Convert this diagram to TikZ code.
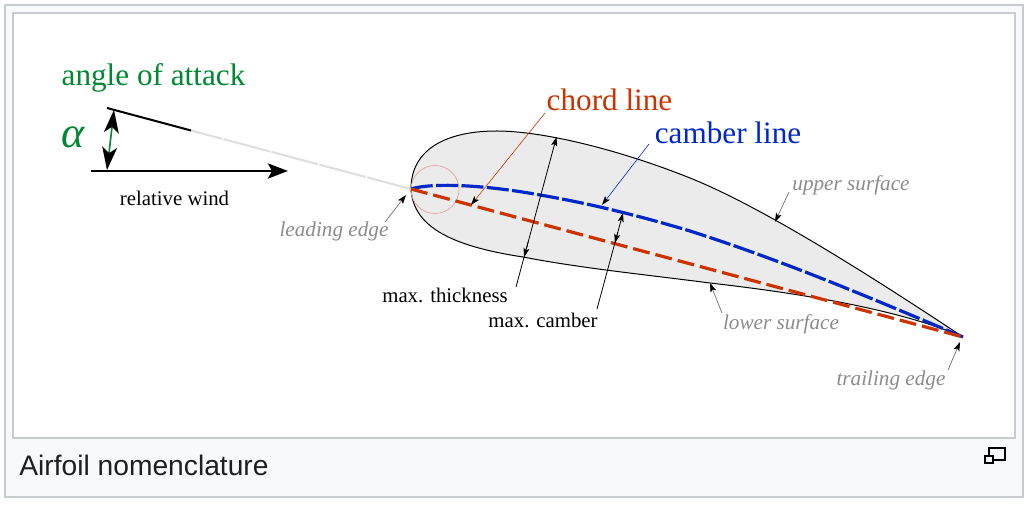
\documentclass[tikz,border=0pt]{standalone}
\usepackage{fontspec}
\setmainfont{Liberation Serif}
\newfontfamily\captionfont{Liberation Sans}
\usetikzlibrary{arrows.meta,calc}
\definecolor{chordred}{RGB}{204,51,0}
\definecolor{camberblue}{RGB}{0,40,200}
\definecolor{alphagreen}{RGB}{0,136,51}
\definecolor{framegray}{RGB}{200,204,209}
\definecolor{capbg}{RGB}{248,249,250}
\definecolor{nosepink}{RGB}{225,170,170}
\tikzstyle{skin}=[draw=black,line width=0.5pt,fill=black!8]
\tikzstyle{callout}=[line width=0.4pt,-{Stealth[length=4.5pt,width=3pt,inset=1pt,black]}]
\tikzstyle{greycallout}=[line width=0.35pt,draw=black!55,-{Stealth[length=4.5pt,width=3pt,inset=1pt,black]}]
\tikzstyle{heavy}=[line width=1.6pt]
\tikzstyle{surfacelabel}=[font=\fontsize{10.6}{12}\selectfont\itshape,text=black!45,inner sep=0pt]
\tikzstyle{blacklabel}=[font=\fontsize{10.4}{12}\selectfont,inner sep=0pt]
\tikzstyle{biglabel}=[font=\fontsize{15.6}{18}\selectfont,inner sep=0pt]
\begin{document}
\begin{tikzpicture}[x=0.5pt,y=-0.5pt]
\useasboundingbox (0,0) rectangle (1036,506);

   % frame and caption
   \draw[framegray,fill=capbg,line width=1pt] (5,5) rectangle (1023,497);
   \draw[framegray,fill=white,line width=1pt] (13,13) rectangle (1015,438);
   \node[anchor=west,inner sep=0pt,font=\captionfont\fontsize{14.1}{16}\selectfont,text=black!88] (caption) at (19,465) {Airfoil nomenclature};
   \draw[black,line width=0.6pt] (989,448) rectangle (1005,460);
   \draw[black,line width=0.6pt,fill=capbg] (985,456) rectangle (993,463);

   % fixed points
   \coordinate (lead) at (411,189);
   \coordinate (trail) at (963,337);
   \coordinate (tail) at (107,108);
   \coordinate (fade) at (191,130.5);
   \coordinate (windstart) at (91,171);
   \coordinate (windend) at (288,171);

   % airfoil
   \draw[skin] (lead) .. controls (411,150) and (445,131) .. (497,131)
      .. controls (540,131) and (615,148) .. (690,178)
      .. controls (765,208) and (880,282) .. (trail)
      .. controls (890,305) and (770,290) .. (710,283)
      .. controls (640,274) and (580,268) .. (523,257)
      .. controls (450,246) and (413,226) .. (lead) -- cycle;

   % leading edge circle
   \node[circle,draw=nosepink,line width=0.4pt,minimum size=24pt,inner sep=0pt] (nosecircle) at (435,189.5) {};

   % relative wind and angle of attack
   \draw[black!13,line width=1pt,dash pattern=on 24pt off 0.8pt,dash phase=8pt] (fade) -- (lead);
   \draw[line width=1pt] (tail) -- (fade);
   \draw[line width=1.4pt,-{Stealth[length=10pt,width=7.5pt,inset=2pt]}] (windstart) -- (windend);
   \coordinate (aoatop) at (114,110);
   \coordinate (aoabot) at (107,170);
   \draw[line width=0.8pt,alphagreen,{Stealth[length=11.5pt,width=7.5pt,inset=3pt,black]}-{Stealth[length=11.5pt,width=7.5pt,inset=3pt,black]}] (aoabot) -- (aoatop);

   % camber and chord
   \draw[camberblue,heavy,dash pattern=on 11pt off 1.7pt] (lead) .. controls (430,183) and (480,184) .. (540,195)
      .. controls (590,203.5) and (640,216) .. (690,231)
      .. controls (790,263) and (880,302) .. (trail);
   \draw[chordred,heavy,dash pattern=on 8.5pt off 3pt] (lead) -- (trail);

   % labels
   \node[biglabel,text=alphagreen] (aoalabel) at (153.5,78) {angle of attack};
   \node[text=alphagreen,inner sep=0pt,font=\fontsize{22}{24}\selectfont\itshape] (alphalabel) at (73,137) {α};
   \node[blacklabel] (windlabel) at (174.5,198) {relative wind};
   \node[biglabel,text=chordred] (chordlabel) at (609.5,100) {chord line};
   \node[biglabel,text=camberblue] (camberlabel) at (728,133) {camber line};
   \node[surfacelabel] (leadlabel) at (334,231) {leading edge};
   \node[surfacelabel] (upperlabel) at (851,185) {upper surface};
   \node[surfacelabel] (lowerlabel) at (781,324) {lower surface};
   \node[surfacelabel] (traillabel) at (891,380) {trailing edge};
   \node[blacklabel] (thicklabel) at (445,295) {max. thickness};
   \node[blacklabel] (camblabel) at (543,320) {max. camber};

   % callouts
   \coordinate (chordfrom) at (545,113);
   \coordinate (chordto) at (471,205);
   \coordinate (camberfrom) at (649,144);
   \coordinate (camberto) at (602,205);
   \draw[callout,chordred,line width=0.3pt] (chordfrom) -- (chordto);
   \draw[callout,camberblue,line width=0.3pt] (camberfrom) -- (camberto);
   \coordinate (thickfrom) at (516,287);
   \coordinate (thicktop) at (556.5,137);
   \coordinate (thickbot) at ($(thickfrom)!0.2!(thicktop)$);
   \draw[callout] (thickfrom) -- (thicktop);
   \draw[callout] ($(thickfrom)!0.3!(thicktop)$) -- (thickbot);
   \coordinate (cambfrom) at (597,309);
   \coordinate (cambtop) at (623,213);
   \coordinate (cambbot) at ($(cambfrom)!0.6875!(cambtop)$);
   \draw[callout] (cambfrom) -- (cambtop);
   \draw[callout] ($(cambfrom)!0.8!(cambtop)$) -- (cambbot);
   \coordinate (leadfrom) at (385,222);
   \coordinate (leadto) at (406,195);
   \draw[greycallout] (leadfrom) -- (leadto);
   \coordinate (upperfrom) at (789,192);
   \coordinate (upperto) at (775,222);
   \draw[greycallout] (upperfrom) -- (upperto);
   \coordinate (lowerfrom) at (722,313);
   \coordinate (lowerto) at (710,283);
   \draw[greycallout] (lowerfrom) -- (lowerto);
   \coordinate (trailfrom) at (948,370);
   \coordinate (trailto) at (960,342);
   \draw[greycallout] (trailfrom) -- (trailto);

\end{tikzpicture}
\end{document}
